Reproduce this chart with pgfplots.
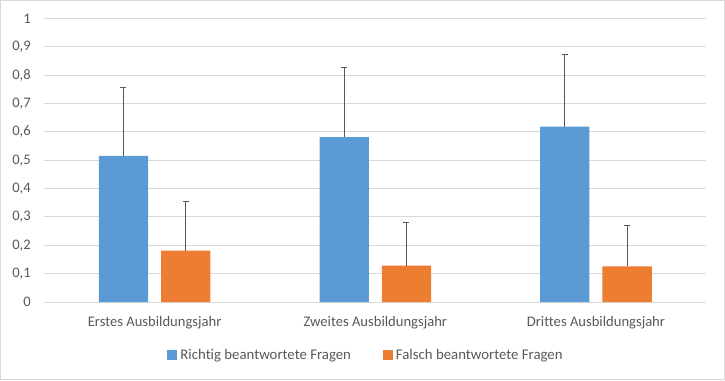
\documentclass[border=0pt]{standalone}
\usepackage{pgfplots}
\pgfplotsset{compat=1.18}
\usepackage{fontspec}
\setmainfont{Carlito}[Ligatures={NoCommon}]
\definecolor{cblue}{HTML}{5B9BD5}
\definecolor{corange}{HTML}{ED7D31}
\definecolor{cgrid}{HTML}{D9D9D9}
\definecolor{ctext}{HTML}{595959}
\begin{document}
\begin{tikzpicture}
\path[use as bounding box] (-44.3pt,-78pt) rectangle (680.7pt,302pt);
\draw[cgrid, line width=1pt] (-43.8pt,-77.5pt) rectangle (680.2pt,301.5pt);
\begin{axis}[
  at={(0pt,0pt)}, anchor=south west,
  scale only axis, width=662pt, height=283.6pt,
  ybar=13pt, bar width=49.3pt,
  xmin=-0.5, xmax=2.5, ymin=0, ymax=1,
  xtick={0,1,2},
  xticklabels={Erstes Ausbildungsjahr, Zweites Ausbildungsjahr, Drittes Ausbildungsjahr},
  ytick={0,0.1,...,1.0},
  /pgf/number format/assume math mode=true,
  /pgf/number format/use comma, /pgf/number format/fixed, /pgf/number format/precision=1,
  axis line style={draw=none},
  major tick length=0pt,
  ymajorgrids, grid style={cgrid, line width=1pt},
  tick label style={font=\fontsize{14.6}{16}\selectfont, text=ctext},
  yticklabel style={anchor=east, xshift=-10pt},
  xticklabel style={anchor=base, yshift=-24pt},
  legend style={at={(0.486,-0.187)}, anchor=center, draw=none, fill=none,
    font=\fontsize{14.8}{16}\selectfont, text=ctext, legend columns=2,
    /tikz/every odd column/.append style={column sep=1pt},
    /tikz/every even column/.append style={column sep=30pt}},
  legend image code/.code={\fill[#1] (0pt,-5pt) rectangle (10pt,5pt);},
  error bars/y dir=plus, error bars/y explicit,
  error bars/error bar style={ctext, line width=1.1pt},
  error bars/error mark options={ctext, rotate=90, mark size=3pt, line width=1.1pt},
]
\addplot[fill=cblue, draw=none] coordinates {
  (0,0.515) +- (0,0.242)
  (1,0.581) +- (0,0.247)
  (2,0.618) +- (0,0.256)
};
\addplot[fill=corange, draw=none] coordinates {
  (0,0.181) +- (0,0.173)
  (1,0.128) +- (0,0.152)
  (2,0.126) +- (0,0.145)
};
\legend{Richtig beantwortete Fragen, Falsch beantwortete Fragen}
\end{axis}
\end{tikzpicture}
\end{document}
